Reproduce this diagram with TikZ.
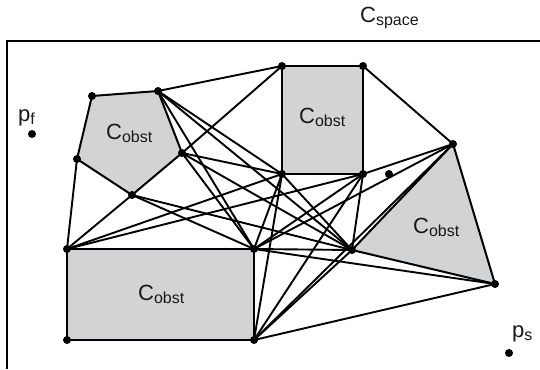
\documentclass[tikz,border=0pt]{standalone}
\usepackage{fontspec}
\setmainfont{Liberation Sans}
\definecolor{obstgray}{RGB}{210,211,213}
\newcommand{\lbl}[2]{{\fontsize{22}{22}\selectfont #1}\raisebox{-0.3em}{\fontsize{16}{16}\selectfont #2}}
\begin{document}
\begin{tikzpicture}[x=1pt,y=-1pt,
  obstacle/.style={fill=obstgray,draw=black,line width=2pt,line join=round},
  vis/.style={draw=black,line width=1.9pt},
  vtx/.style={circle,fill=black,inner sep=0pt,minimum size=8pt},
  lab/.style={anchor=base west,inner sep=0pt,text=black!90},
  frameline/.style={draw=black,line width=2.6pt}]
\useasboundingbox (0,0) rectangle (540,369);
% configuration space frame
\draw[frameline] (540,41) -- (7,41) -- (7,369);
% obstacle vertices
\coordinate (A) at (92,96);
\coordinate (B) at (158,91);
\coordinate (C) at (182,153);
\coordinate (D) at (132,195);
\coordinate (E) at (77,159);
\coordinate (F) at (282,66);
\coordinate (G) at (363,66);
\coordinate (H) at (282,174);
\coordinate (I) at (363,174);
\coordinate (J) at (453,144);
\coordinate (K) at (352,250);
\coordinate (L) at (495,284);
\coordinate (M) at (67,249);
\coordinate (N) at (254,249);
\coordinate (O) at (67,340);
\coordinate (P) at (254,340);
% obstacles
\draw[obstacle] (A) -- (B) -- (C) -- (D) -- (E) -- cycle;
\draw[obstacle] (F) -- (G) -- (I) -- (H) -- cycle;
\draw[obstacle] (J) -- (L) -- (K) -- cycle;
\draw[obstacle] (M) -- (N) -- (P) -- (O) -- cycle;
% visibility graph edges
\draw[vis] (B) -- (F);
\draw[vis] (C) -- (F);
\draw[vis] (G) -- (J);
\draw[vis] (E) -- (M);
\draw[vis] (D) -- (M);
\draw[vis] (B) -- (H);
\draw[vis] (B) -- (N);
\draw[vis] (B) -- (K);
\draw[vis] (C) -- (H);
\draw[vis] (C) -- (K);
\draw[vis] (C) -- (N);
\draw[vis] (D) -- (N);
\draw[vis] (D) -- (K);
\draw[vis] (M) -- (H);
\draw[vis] (M) -- (I);
\draw[vis] (N) -- (H);
\draw[vis] (N) -- (I);
\draw[vis] (N) -- (J);
\draw[vis] (N) -- (K);
\draw[vis] (N) -- (L);
\draw[vis] (H) -- (K);
\draw[vis] (H) -- (P);
\draw[vis] (I) -- (J);
\draw[vis] (I) -- (K);
\draw[vis] (I) -- (P);
\draw[vis] (J) -- (P);
\draw[vis] (K) -- (P);
\draw[vis] (L) -- (P);
% vertex dots
\foreach \v in {A,B,C,D,E,F,G,H,I,J,K,L,M,N,O,P}
  \node[vtx] (d\v) at (\v) {};
\node[vtx] (free) at (389,174) {};
\node[vtx] (pf) at (32,134) {};
\node[vtx] (ps) at (509,353) {};
% labels
\node[lab] (lpf) at (18,121) {\lbl{p}{f}};
\node[lab] (lps) at (512,337) {\lbl{p}{s}};
\node[lab] (lspace) at (360,23) {\lbl{C}{space}};
\node[lab] (o1) at (106,139) {\lbl{C}{obst}};
\node[lab] (o2) at (299,123) {\lbl{C}{obst}};
\node[lab] (o3) at (413,233) {\lbl{C}{obst}};
\node[lab] (o4) at (138,300) {\lbl{C}{obst}};
\end{tikzpicture}
\end{document}
